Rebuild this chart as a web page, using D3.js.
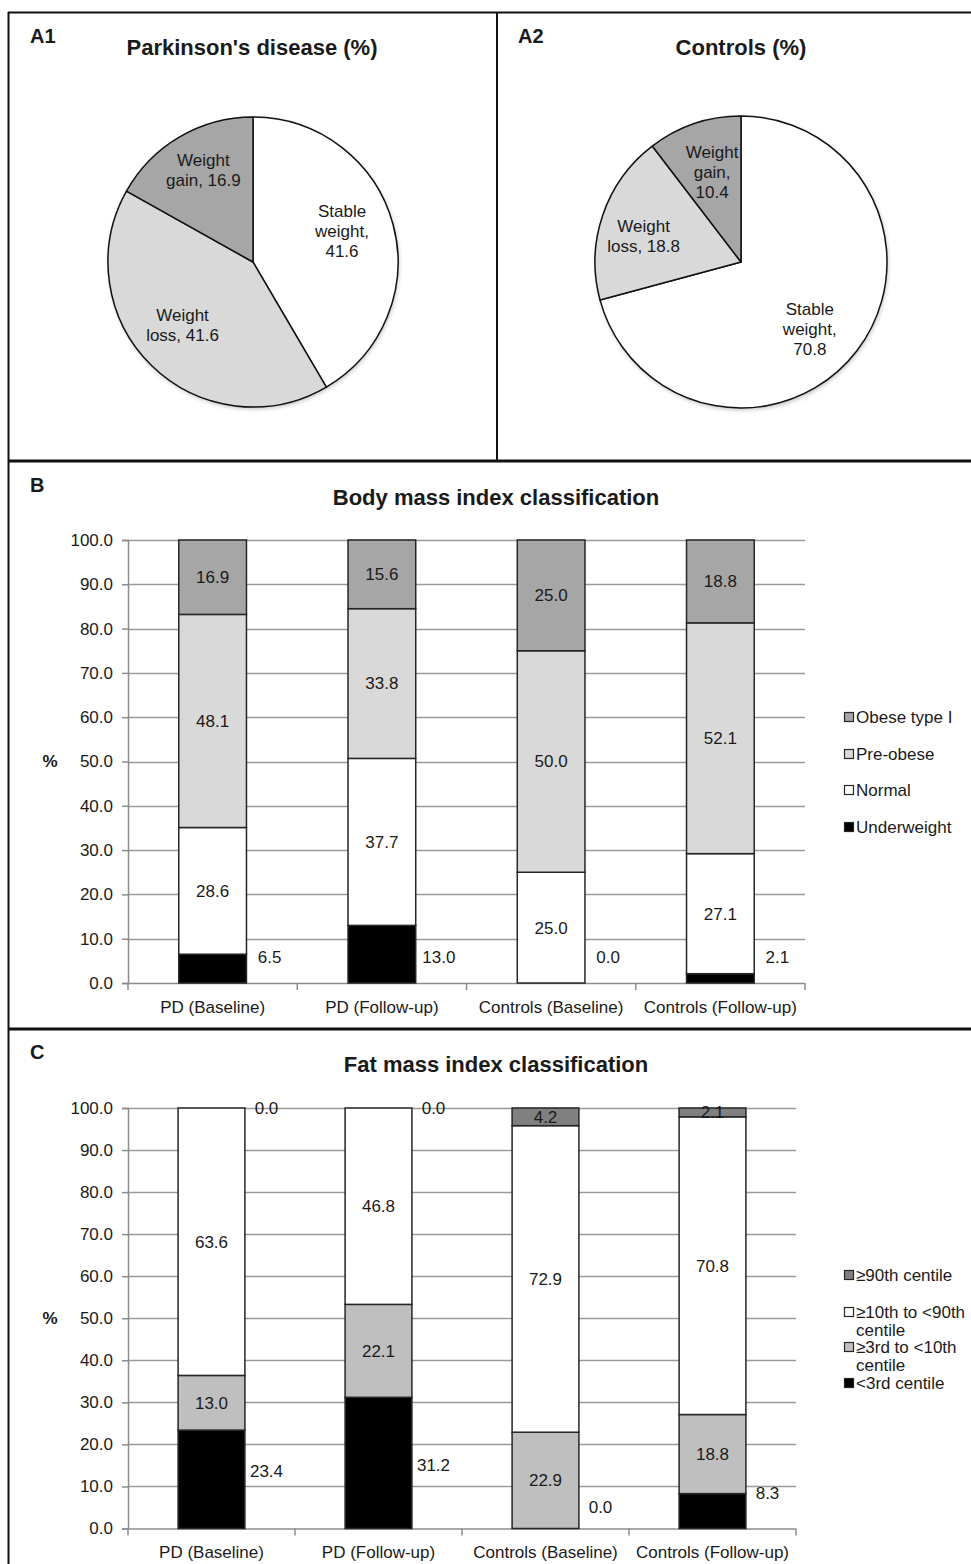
<!DOCTYPE html>
<html>
<head>
<meta charset="utf-8">
<script src="https://cdn.jsdelivr.net/npm/d3@7"></script>
<style>
  html, body { margin: 0; padding: 0; background: #fff; }
  svg { display: block; font-family: "Liberation Sans", Arial, sans-serif; }
</style>
</head>
<body>
<svg id="chart" width="971" height="1564"></svg>
<script>
// ---------------- DATA ----------------
// Pie charts (A1, A2)
const pieCategories = ["Stable weight", "Weight loss", "Weight gain"];
const pieLabelLines = [["Stable", "weight,"], ["Weight", "loss,"], ["Weight", "gain,"]];
const pdPieValues = [41.6, 41.6, 16.9];
const ctrlPieValues = [70.8, 18.8, 10.4];
// whether the value goes on its own line (per slice)
const pdValueNewLine = [true, false, false];
const ctrlValueNewLine = [true, false, true];

// Bar charts shared categories
const groups = ["PD (Baseline)", "PD (Follow-up)", "Controls (Baseline)", "Controls (Follow-up)"];
const yTicks = [0, 10, 20, 30, 40, 50, 60, 70, 80, 90, 100];

// B: Body mass index classification (bottom to top)
const bmiKeys = ["Underweight", "Normal", "Pre-obese", "Obese type I"];
const bmiUnderweight = [6.5, 13.0, 0.0, 2.1];
const bmiNormal = [28.6, 37.7, 25.0, 27.1];
const bmiPreObese = [48.1, 33.8, 50.0, 52.1];
const bmiObese = [16.9, 15.6, 25.0, 18.8];

// C: Fat mass index classification (bottom to top)
const fmiKeys = ["<3rd centile", "≥3rd to <10th centile", "≥10th to <90th centile", "≥90th centile"];
const fmiBelow3 = [23.4, 31.2, 0.0, 8.3];
const fmi3to10 = [13.0, 22.1, 22.9, 18.8];
const fmi10to90 = [63.6, 46.8, 72.9, 70.8];
const fmiAbove90 = [0.0, 0.0, 4.2, 2.1];
// value-axis height at which the side labels of the bottom series sit
const bmiSideLabelAt = [5.8, 5.8, 5.8, 5.8];
const fmiSideLabelAt = [13.6, 15.1, 5.0, 8.5];

// ---------------- DRAW ----------------
const svg = d3.select("#chart");
svg.append("rect").attr("width", 971).attr("height", 1564).attr("fill", "#fff");

const FONT = "'Liberation Sans', Arial, sans-serif";
const INK = "#1a1a1a";

// Panel borders
const borders = svg.append("g").attr("stroke", "#111").attr("fill", "none");
borders.append("line").attr("x1", 8).attr("x2", 971).attr("y1", 12.5).attr("y2", 12.5).attr("stroke-width", 2);
borders.append("line").attr("x1", 8.5).attr("x2", 8.5).attr("y1", 12).attr("y2", 1564).attr("stroke-width", 2);
borders.append("line").attr("x1", 497).attr("x2", 497).attr("y1", 12).attr("y2", 461).attr("stroke-width", 2);
borders.append("line").attr("x1", 8).attr("x2", 971).attr("y1", 461).attr("y2", 461).attr("stroke-width", 3);
borders.append("line").attr("x1", 8).attr("x2", 971).attr("y1", 1029).attr("y2", 1029).attr("stroke-width", 3);

// shadow filter for pies
const defs = svg.append("defs");
const f = defs.append("filter").attr("id", "shadow").attr("x", "-20%").attr("y", "-20%").attr("width", "140%").attr("height", "140%");
f.append("feDropShadow").attr("dx", 1).attr("dy", 2).attr("stdDeviation", 2).attr("flood-color", "#000").attr("flood-opacity", 0.25);

const pieColors = ["#ffffff", "#d9d9d9", "#a6a6a6"];

function drawPie(cx, cy, r, values, newLine, labelR, labelTurn, tag, title, titleX) {
  svg.append("text").attr("x", cx - 223).attr("y", 43).attr("font-family", FONT)
    .attr("font-weight", "bold").attr("font-size", 20).attr("fill", INK).text(tag);
  svg.append("text").attr("x", titleX).attr("y", 55).attr("text-anchor", "middle").attr("font-family", FONT)
    .attr("font-weight", "bold").attr("font-size", 22).attr("fill", INK).text(title);

  const pie = d3.pie().sort(null).value(d => d.value).startAngle(0).endAngle(2 * Math.PI);
  const data = values.map((v, i) => ({ value: v, i }));
  const arcs = pie(data);
  const arc = d3.arc().innerRadius(0).outerRadius(r);
  const g = svg.append("g").attr("transform", `translate(${cx},${cy})`);
  g.append("circle").attr("r", r).attr("fill", "#fff").attr("filter", "url(#shadow)");
  g.selectAll("path").data(arcs).join("path")
    .attr("d", arc).attr("fill", d => pieColors[d.data.i])
    .attr("stroke", "#111").attr("stroke-width", 1.5).attr("stroke-linejoin", "round");
  arcs.forEach(a => {
    const i = a.data.i;
    const lines = pieLabelLines[i].slice();
    const vs = d3.format(".1f")(a.data.value);
    if (newLine[i]) lines.push(vs); else lines[lines.length - 1] = lines[lines.length - 1] + " " + vs;
    const mid = (a.startAngle + a.endAngle) / 2 + labelTurn[i] * Math.PI / 180;
    const rr = r * labelR[i];
    const lx = rr * Math.sin(mid), ly = -rr * Math.cos(mid);
    const lh = 20;
    const t = g.append("text").attr("text-anchor", "middle").attr("font-family", FONT)
      .attr("font-size", 17).attr("fill", INK);
    lines.forEach((ln, k) => {
      t.append("tspan").attr("x", lx).attr("y", ly + (k - (lines.length - 1) / 2) * lh).attr("dy", "0.35em").text(ln);
    });
  });
}

drawPie(253, 262, 145, pdPieValues, pdValueNewLine, [0.65, 0.65, 0.72], [-4, 4, 2], "A1", "Parkinson's disease (%)", 252);
drawPie(741, 262, 146, ctrlPieValues, ctrlValueNewLine, [0.66, 0.69, 0.65], [7, -4, 1], "A2", "Controls (%)", 741);

function drawStacked(opt) {
  const x = d3.scaleBand().domain(groups).range([128, opt.xRight]).paddingInner(0).paddingOuter(0);
  const y = d3.scaleLinear().domain([0, 100]).range([opt.yBottom, opt.yTop]).clamp(true);
  const barW = x.bandwidth() * 0.40;
  const fmt = d3.format(".1f");

  svg.append("text").attr("x", 30).attr("y", opt.tagY).attr("font-family", FONT).attr("font-weight", "bold")
    .attr("font-size", 20).attr("fill", INK).text(opt.tag);
  svg.append("text").attr("x", 496).attr("y", opt.titleY).attr("text-anchor", "middle").attr("font-family", FONT)
    .attr("font-weight", "bold").attr("font-size", 22).attr("fill", INK).text(opt.title);

  // gridlines
  svg.append("g").selectAll("line").data(yTicks.filter(t => t > 0)).join("line")
    .attr("x1", 128).attr("x2", opt.xRight).attr("y1", d => Math.round(y(d)) + 0.5).attr("y2", d => Math.round(y(d)) + 0.5)
    .attr("stroke", "#9a9a9a").attr("stroke-width", 1.5);

  // y axis
  const yAxis = d3.axisLeft(y).tickValues(yTicks).tickFormat(fmt).tickSize(6).tickPadding(9);
  const ya = svg.append("g").attr("transform", "translate(128,0)").call(yAxis);
  ya.select(".domain").attr("stroke", "#8c8c8c").attr("stroke-width", 1.5);
  ya.selectAll(".tick line").attr("stroke", "#8c8c8c").attr("stroke-width", 1.5);
  ya.selectAll(".tick text").attr("font-family", FONT).attr("font-size", 17).attr("fill", INK);

  // x axis
  const xa = svg.append("g").attr("transform", `translate(0,${opt.yBottom})`);
  xa.append("line").attr("x1", 128).attr("x2", opt.xRight).attr("y1", 0.5).attr("y2", 0.5)
    .attr("stroke", "#8c8c8c").attr("stroke-width", 1.5);
  const bounds = groups.map(g => x(g)).concat([opt.xRight]);
  xa.selectAll("line.tk").data(bounds).join("line").attr("class", "tk")
    .attr("x1", d => d).attr("x2", d => d).attr("y1", 0).attr("y2", 7)
    .attr("stroke", "#8c8c8c").attr("stroke-width", 1.5);
  xa.selectAll("text").data(groups).join("text")
    .attr("x", d => x(d) + x.bandwidth() / 2).attr("y", opt.xLabelDy).attr("dy", "0.35em")
    .attr("text-anchor", "middle").attr("font-family", FONT).attr("font-size", 17).attr("fill", INK).text(d => d);

  // % label
  svg.append("text").attr("x", 50).attr("y", y(50)).attr("dy", "0.35em").attr("text-anchor", "middle")
    .attr("font-family", FONT).attr("font-weight", "bold").attr("font-size", 17).attr("fill", INK).text("%");

  // stacked bars
  const table = groups.map((g, i) => {
    const row = { group: g };
    opt.keys.forEach((k, j) => { row[k] = opt.series[j][i]; });
    return row;
  });
  const stacked = d3.stack().keys(opt.keys)(table);
  const cx = g => x(g) + x.bandwidth() / 2;

  stacked.forEach((layer, j) => {
    svg.append("g").selectAll("rect").data(layer).join("rect")
      .attr("x", d => cx(d.data.group) - barW / 2)
      .attr("width", barW)
      .attr("y", d => y(d[1]))
      .attr("height", d => Math.max(0, y(d[0]) - y(d[1])))
      .attr("fill", opt.colors[j])
      .attr("stroke", d => (d[1] - d[0]) > 0 ? "#262626" : "none")
      .attr("stroke-width", 1.5);
  });

  // labels
  stacked.forEach((layer, j) => {
    layer.forEach((d, i) => {
      const val = opt.series[j][i];
      let lx, ly;
      if (j === 0) {
        lx = cx(d.data.group) + opt.sideOffset;
        ly = y(opt.sideAt[i]);
      } else if (val === 0) {
        lx = cx(d.data.group) + opt.sideOffset;
        ly = y(Math.min(100, d[1]));
      } else {
        lx = cx(d.data.group);
        ly = (y(d[0]) + y(Math.min(100, d[1]))) / 2;
      }
      svg.append("text").attr("x", lx).attr("y", ly).attr("dy", "0.35em").attr("text-anchor", "middle")
        .attr("font-family", FONT).attr("font-size", 17).attr("fill", INK).text(fmt(val));
    });
  });

  // legend
  const lg = svg.append("g");
  opt.legend.forEach((it) => {
    lg.append("rect").attr("x", 844.5).attr("y", it.y - 4.5).attr("width", 9).attr("height", 9)
      .attr("fill", opt.colors[it.idx]).attr("stroke", "#262626").attr("stroke-width", 1.2);
    const t = lg.append("text").attr("font-family", FONT).attr("font-size", 17).attr("fill", INK);
    it.lines.forEach((ln, m) => {
      t.append("tspan").attr("x", 856).attr("y", it.y + m * 18.5).attr("dy", "0.35em").text(ln);
    });
  });
}

drawStacked({
  tag: "B", tagY: 492, title: "Body mass index classification", titleY: 505,
  xRight: 805, yBottom: 983, yTop: 540, xLabelDy: 24,
  keys: bmiKeys, series: [bmiUnderweight, bmiNormal, bmiPreObese, bmiObese],
  colors: ["#000000", "#ffffff", "#d9d9d9", "#a6a6a6"],
  sideOffset: 57, sideAt: bmiSideLabelAt,
  legend: [
    { idx: 3, y: 717, lines: [bmiKeys[3]] },
    { idx: 2, y: 754, lines: [bmiKeys[2]] },
    { idx: 1, y: 790, lines: [bmiKeys[1]] },
    { idx: 0, y: 827, lines: [bmiKeys[0]] }
  ]
});

drawStacked({
  tag: "C", tagY: 1059, title: "Fat mass index classification", titleY: 1072,
  xRight: 796, yBottom: 1528.5, yTop: 1108, xLabelDy: 24,
  keys: fmiKeys, series: [fmiBelow3, fmi3to10, fmi10to90, fmiAbove90],
  colors: ["#000000", "#bfbfbf", "#ffffff", "#808080"],
  sideOffset: 55, sideAt: fmiSideLabelAt,
  legend: [
    { idx: 3, y: 1275, lines: ["≥90th centile"] },
    { idx: 2, y: 1312, lines: ["≥10th to <90th", "centile"] },
    { idx: 1, y: 1347, lines: ["≥3rd to <10th", "centile"] },
    { idx: 0, y: 1383, lines: ["<3rd centile"] }
  ]
});
</script>
</body>
</html>
